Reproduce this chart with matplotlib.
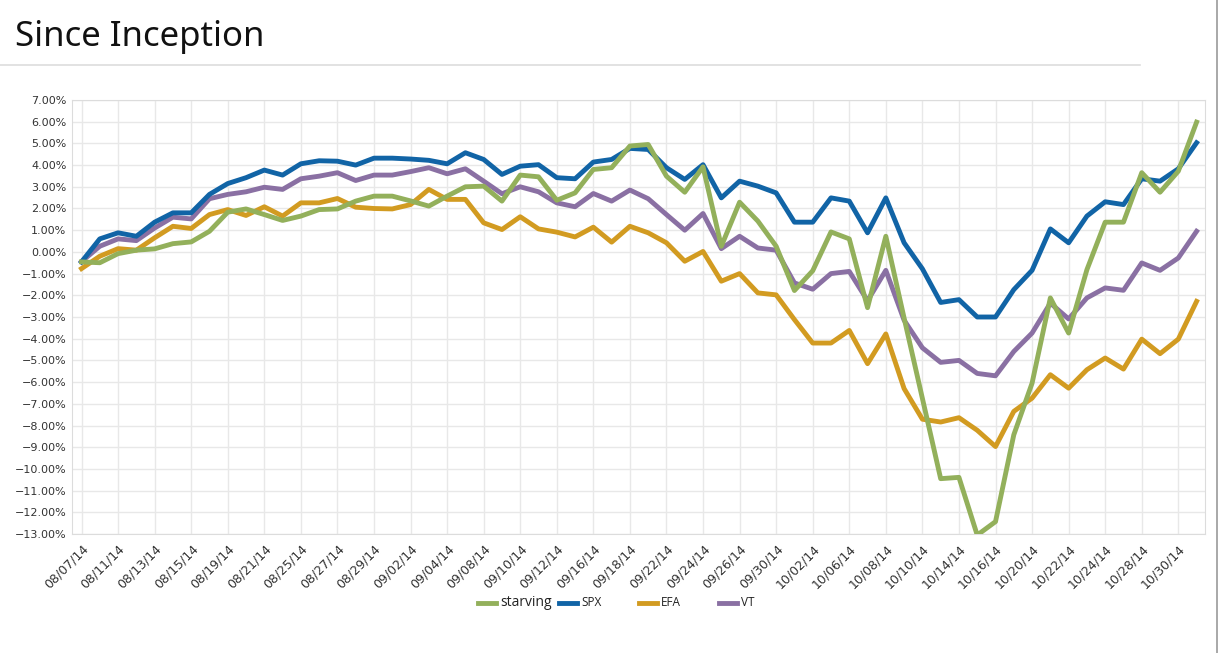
import matplotlib
matplotlib.use('Agg')
import matplotlib.pyplot as plt
from matplotlib.lines import Line2D
from matplotlib.ticker import FuncFormatter, MultipleLocator

# fechas (días de mercado) y rentabilidad acumulada en %
dates = ['08/07/14', '08/08/14', '08/11/14', '08/12/14', '08/13/14', '08/14/14', '08/15/14', '08/18/14',
         '08/19/14', '08/20/14', '08/21/14', '08/22/14', '08/25/14', '08/26/14', '08/27/14', '08/28/14',
         '08/29/14', '09/01/14', '09/02/14', '09/03/14', '09/04/14', '09/05/14', '09/08/14', '09/09/14',
         '09/10/14', '09/11/14', '09/12/14', '09/15/14', '09/16/14', '09/17/14', '09/18/14', '09/19/14',
         '09/22/14', '09/23/14', '09/24/14', '09/25/14', '09/26/14', '09/29/14', '09/30/14', '10/01/14',
         '10/02/14', '10/03/14', '10/06/14', '10/07/14', '10/08/14', '10/09/14', '10/10/14', '10/13/14',
         '10/14/14', '10/15/14', '10/16/14', '10/17/14', '10/20/14', '10/21/14', '10/22/14', '10/23/14',
         '10/24/14', '10/27/14', '10/28/14', '10/29/14', '10/30/14', '10/31/14']

starving = [-0.46, -0.50, -0.08, 0.08, 0.14, 0.38, 0.46, 0.95, 1.83, 1.98, 1.72, 1.45, 1.65, 1.95, 1.98, 2.34,
            2.57, 2.57, 2.35, 2.11, 2.57, 3.00, 3.03, 2.34, 3.54, 3.46, 2.38, 2.72, 3.80, 3.88, 4.88, 4.95,
            3.49, 2.75, 3.92, 0.26, 2.29, 1.42, 0.26, -1.78, -0.87, 0.92, 0.60, -2.57, 0.72, -3.05,
            -6.75, -10.45, -10.39, -13.05, -12.43, -8.43, -6.05, -2.12, -3.74, -0.82, 1.37, 1.37, 3.65,
            2.75, 3.72, 5.98]

spx = [-0.46, 0.60, 0.88, 0.72, 1.37, 1.80, 1.80, 2.65, 3.15, 3.42, 3.77, 3.54, 4.06, 4.20, 4.18, 4.00,
       4.32, 4.32, 4.28, 4.22, 4.06, 4.57, 4.26, 3.57, 3.95, 4.02, 3.42, 3.37, 4.14, 4.26, 4.77, 4.72,
       3.88, 3.34, 4.02, 2.49, 3.26, 3.03, 2.72, 1.37, 1.37, 2.49, 2.34, 0.88, 2.49, 0.42, -0.78,
       -2.33, -2.20, -3.00, -3.00, -1.74, -0.85, 1.06, 0.42, 1.65, 2.31, 2.18, 3.37, 3.26, 3.83, 5.03]

efa = [-0.77, -0.20, 0.15, 0.08, 0.65, 1.18, 1.08, 1.72, 1.95, 1.68, 2.08, 1.65, 2.26, 2.26, 2.46, 2.06,
       2.00, 1.98, 2.18, 2.88, 2.42, 2.42, 1.34, 1.03, 1.62, 1.06, 0.91, 0.69, 1.14, 0.45, 1.18, 0.88,
       0.42, -0.43, 0.02, -1.35, -1.00, -1.89, -1.98, -3.12, -4.20, -4.20, -3.62, -5.15, -3.78, -6.30,
       -7.71, -7.84, -7.64, -8.22, -8.97, -7.35, -6.74, -5.66, -6.28, -5.43, -4.89, -5.40, -4.02,
       -4.69, -4.02, -2.28]

vt = [-0.45, 0.26, 0.60, 0.52, 1.10, 1.60, 1.52, 2.45, 2.65, 2.77, 2.98, 2.88, 3.37, 3.49, 3.65, 3.29,
      3.54, 3.54, 3.70, 3.88, 3.60, 3.83, 3.26, 2.68, 3.00, 2.77, 2.26, 2.08, 2.69, 2.34, 2.85, 2.45,
      1.72, 1.00, 1.77, 0.15, 0.72, 0.18, 0.08, -1.43, -1.72, -1.00, -0.90, -2.25, -0.85, -3.15,
      -4.42, -5.09, -5.00, -5.60, -5.71, -4.59, -3.74, -2.36, -3.09, -2.12, -1.66, -1.77, -0.51,
      -0.85, -0.28, 0.95]

series_names = ['starving', 'SPX', 'EFA', 'VT']
colores = ['#93b05b', '#1164a6', '#d29b21', '#8a70a3']

fig = plt.figure(figsize=(12.19, 6.53), dpi=100)
ax = fig.add_axes([72 / 1219, 1 - 534 / 653, (1205 - 72) / 1219, (534 - 100) / 653])

x = list(range(len(dates)))
datos = [starving, spx, efa, vt]
orden_z = [6, 5, 3, 4]
for serie, color, z in zip(datos, colores, orden_z):
    ax.plot(x, serie, color=color, lw=3.5, zorder=z)

ax.set_xlim(-0.52, 61.46)
ax.set_ylim(-13, 7)
ax.yaxis.set_major_locator(MultipleLocator(1))
ax.yaxis.set_major_formatter(FuncFormatter(lambda v, p: f'{v:.2f}%'.replace('-', '\u2212')))
ax.set_xticks(x[::2])
ax.set_xticklabels(dates[::2], rotation=45, ha='right', rotation_mode='anchor')

ax.grid(True, color='#e8e8e8', lw=1)
ax.set_axisbelow(True)
ax.tick_params(length=0, labelcolor='#333333')
ax.tick_params(axis='y', labelsize=8, pad=4)
ax.tick_params(axis='x', labelsize=9, pad=6)
for s in ax.spines.values():
    s.set_color('#dcdcdc')

# titulo y decoracion
fig.text(15 / 1219, 1 - 37 / 653, 'Since Inception', fontsize=25, family='Noto Sans', va='center', color='#111111')
fig.add_artist(Line2D([0, 1140 / 1219], [1 - 65 / 653] * 2, color='#dddddd', lw=1.2))
fig.add_artist(Line2D([1217 / 1219] * 2, [0, 1], color='#999999', lw=1.2))

# leyenda
ley_x = [478, 559, 639, 719]
ley_size = [10, 8.5, 8.5, 8.5]
ly = 1 - 603 / 653
for nombre, color, lx, fs in zip(series_names, colores, ley_x, ley_size):
    fig.add_artist(Line2D([lx / 1219, (lx + 18) / 1219], [ly, ly], color=color, lw=3.5))
    fig.text((lx + 22) / 1219, ly, nombre, fontsize=fs, family='Open Sans', va='center', color='#222222')

fig.savefig('out.png', dpi=100, facecolor='white')
